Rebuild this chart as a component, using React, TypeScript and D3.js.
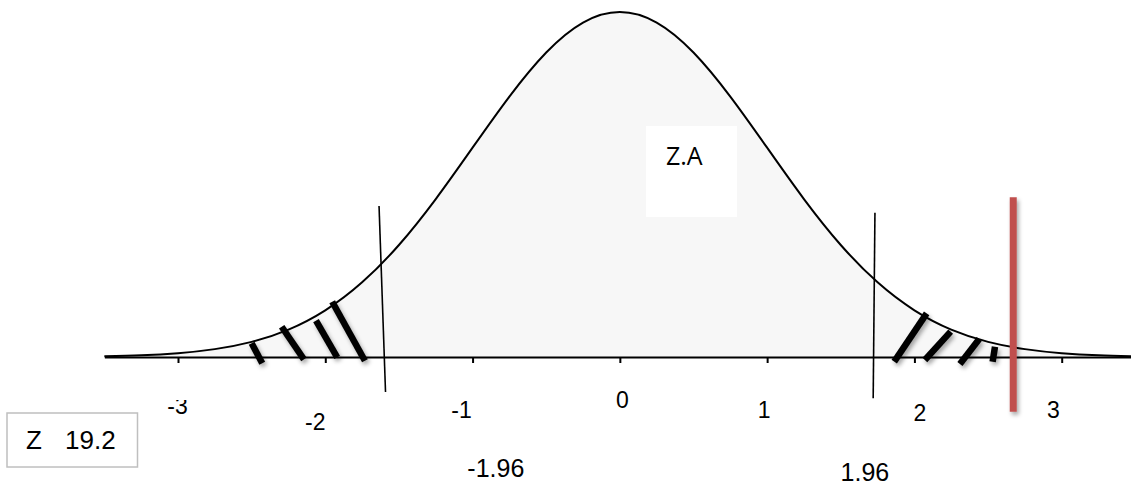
import React, { useEffect, useRef } from "react";
import * as d3 from "d3";

// bell curve, every quarter unit of z
const curveZ = [
  -3.5, -3.25, -3, -2.75, -2.5, -2.25, -2, -1.75, -1.5, -1.25, -1, -0.75, -0.5, -0.25, 0,
  0.25, 0.5, 0.75, 1, 1.25, 1.5, 1.75, 2, 2.25, 2.5, 2.75, 3, 3.25, 3.5,
];
const curveDensity = [
  0.0009, 0.002, 0.0044, 0.0091, 0.0175, 0.0317, 0.054, 0.0863, 0.1295, 0.1826, 0.242, 0.3011,
  0.3521, 0.3867, 0.3989, 0.3867, 0.3521, 0.3011, 0.242, 0.1826, 0.1295, 0.0863, 0.054, 0.0317,
  0.0175, 0.0091, 0.0044, 0.002, 0.0009,
];

const tickValues = [-3, -2, -1, 0, 1, 2, 3];
const tickLabels = ["-3", "-2", "-1", "0", "1", "2", "3"];

// the two thin cut-off lines (slightly slanted in the original)
const cutoffZTop = [-1.635, 1.732];
const cutoffZBottom = [-1.591, 1.72];
const cutoffDensityTop = [0.1746, 0.1668];
const cutoffDensityBottom = [-0.0405, -0.0478];
const cutoffLabels = ["-1.96", "1.96"];

// hatch strokes in the rejection tails
const hatchZTop = [-2.5, -2.296, -2.063, -1.953, 2.083, 2.246, 2.44, 2.547];
const hatchDensityTop = [0.0158, 0.035, 0.042, 0.0639, 0.0505, 0.0293, 0.0208, 0.0119];
const hatchZBottom = [-2.428, -2.145, -1.919, -1.731, 1.863, 2.071, 2.309, 2.531];
const hatchDensityBottom = [-0.0073, -0.0027, -0.0003, -0.0043, -0.0054, -0.0035, -0.0081, -0.0054];

// observed statistic marker
const observedZ = 2.671;
const observedDensityTop = 0.1847;
const observedDensityBottom = -0.0632;

const zLabel = "Z";
const zValue = "19.2";
const areaLabel = "Z.A";

// hand placed label nudges [dx, baseline below axis]
const tickNudge = [
  [-0.5, 56.5],
  [-10, 73],
  [-11, 61.3],
  [2.6, 51.3],
  [-3, 61],
  [5.5, 63.5],
  [-8.4, 61.3],
];
const cutoffNudge = [
  [110.3, 119.7],
  [-8.3, 123.5],
];

const App = () => {
  const svgRef = useRef<SVGSVGElement>(null);

  useEffect(() => {
    const width = 1131;
    const height = 486;
    const font = "'Liberation Sans', Arial, sans-serif";

    const svg = d3.select(svgRef.current);
    svg.selectAll("*").remove(); // clear previous drawing
    svg.attr("width", width).attr("height", height);

    const x = d3.scaleLinear().domain([-3, 3]).range([178, 1061.7]);
    const y = d3.scaleLinear().domain([0, 0.3989]).range([357, 12]);

    const defs = svg.append("defs");
    // user space region so a perfectly vertical line still gets its shadow
    const shadow = defs
      .append("filter")
      .attr("id", "shadow")
      .attr("filterUnits", "userSpaceOnUse")
      .attr("x", 0)
      .attr("y", 0)
      .attr("width", width)
      .attr("height", height);
    shadow
      .append("feDropShadow")
      .attr("dx", 2)
      .attr("dy", 3)
      .attr("stdDeviation", 2)
      .attr("flood-color", "#000")
      .attr("flood-opacity", 0.35);
    // the "-3" label has its top cut off in the original
    defs
      .append("clipPath")
      .attr("id", "clip-top")
      .append("rect")
      .attr("x", 0)
      .attr("y", 400)
      .attr("width", width)
      .attr("height", height);

    const points: [number, number][] = curveZ.map((z, i) => [z, curveDensity[i]]);

    const area = d3
      .area<[number, number]>()
      .x((d) => x(d[0]))
      .y0(y(0))
      .y1((d) => y(d[1]))
      .curve(d3.curveNatural);
    const line = d3
      .line<[number, number]>()
      .x((d) => x(d[0]))
      .y((d) => y(d[1]))
      .curve(d3.curveNatural);

    svg.append("path").datum(points).attr("d", area).attr("fill", "#f7f7f7");
    svg
      .append("path")
      .datum(points)
      .attr("d", line)
      .attr("fill", "none")
      .attr("stroke", "#000")
      .attr("stroke-width", 2);

    // axis line with small ticks, labels drawn separately
    const zExtent = d3.extent(curveZ) as [number, number];
    const xAxisScale = d3.scaleLinear().domain(zExtent).range(zExtent.map(x));
    const axisG = svg
      .append("g")
      .attr("transform", `translate(0,${y(0)})`)
      .call(
        d3
          .axisBottom(xAxisScale)
          .tickValues(tickValues)
          .tickSizeInner(6)
          .tickSizeOuter(0)
          .tickFormat(() => "")
      );
    axisG.select(".domain").attr("stroke", "#000").attr("stroke-width", 2);
    axisG.selectAll(".tick line").attr("stroke", "#000").attr("stroke-width", 2);

    svg
      .append("g")
      .selectAll("text")
      .data(tickValues)
      .join("text")
      .attr("x", (d, i) => x(d) + tickNudge[i][0])
      .attr("y", (d, i) => y(0) + tickNudge[i][1])
      .attr("text-anchor", "middle")
      .attr("font-family", font)
      .attr("font-size", 23)
      .attr("fill", "#000")
      .attr("clip-path", (d, i) => (i === 0 ? "url(#clip-top)" : null))
      .text((d, i) => tickLabels[i]);

    // cut-off lines and their labels
    svg
      .append("g")
      .selectAll("line")
      .data(cutoffLabels)
      .join("line")
      .attr("x1", (d, i) => x(cutoffZTop[i]))
      .attr("y1", (d, i) => y(cutoffDensityTop[i]))
      .attr("x2", (d, i) => x(cutoffZBottom[i]))
      .attr("y2", (d, i) => y(cutoffDensityBottom[i]))
      .attr("stroke", "#000")
      .attr("stroke-width", 1.6);

    svg
      .append("g")
      .selectAll("text")
      .data(cutoffLabels)
      .join("text")
      .attr("x", (d, i) => x(cutoffZBottom[i]) + cutoffNudge[i][0])
      .attr("y", (d, i) => y(0) + cutoffNudge[i][1])
      .attr("text-anchor", "middle")
      .attr("font-family", font)
      .attr("font-size", 25)
      .attr("fill", "#000")
      .text((d) => d);

    // hatching in the tails
    svg
      .append("g")
      .attr("filter", "url(#shadow)")
      .selectAll("line")
      .data(hatchZTop)
      .join("line")
      .attr("x1", (d) => x(d))
      .attr("y1", (d, i) => y(hatchDensityTop[i]))
      .attr("x2", (d, i) => x(hatchZBottom[i]))
      .attr("y2", (d, i) => y(hatchDensityBottom[i]))
      .attr("stroke", "#000")
      .attr("stroke-width", 6.5);

    // observed value marker
    svg
      .append("line")
      .attr("x1", x(observedZ))
      .attr("x2", x(observedZ))
      .attr("y1", y(observedDensityTop))
      .attr("y2", y(observedDensityBottom))
      .attr("stroke", "#c0504d")
      .attr("stroke-width", 7)
      .attr("filter", "url(#shadow)");

    // "Z.A" note box
    svg
      .append("rect")
      .attr("x", 646)
      .attr("y", 126)
      .attr("width", 91)
      .attr("height", 91)
      .attr("fill", "#fff");
    svg
      .append("text")
      .attr("x", 666)
      .attr("y", 165)
      .attr("font-family", "'Open Sans', sans-serif")
      .attr("font-size", 25)
      .attr("fill", "#000")
      .text(areaLabel);

    // "Z 19.2" box
    svg
      .append("rect")
      .attr("x", 7)
      .attr("y", 413)
      .attr("width", 130.5)
      .attr("height", 54)
      .attr("fill", "#fff")
      .attr("stroke", "#bfbfbf")
      .attr("stroke-width", 1.5);
    const zText = svg
      .append("text")
      .attr("y", 449.3)
      .attr("font-family", font)
      .attr("font-size", 26)
      .attr("fill", "#000");
    zText.append("tspan").attr("x", 26).text(zLabel);
    zText.append("tspan").attr("x", 65).text(zValue);
  }, []);

  return (
    <svg
      ref={svgRef}
      style={{ position: "absolute", left: 0, top: 0, display: "block" }}
    ></svg>
  );
};

export default App;
